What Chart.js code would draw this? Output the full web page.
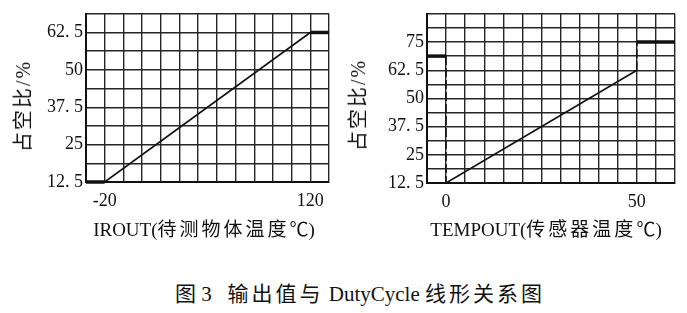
<!DOCTYPE html>
<html><head><meta charset="utf-8">
<script src="https://cdn.jsdelivr.net/npm/chart.js@4/dist/chart.umd.min.js"></script>
<style>
html,body{margin:0;padding:0;background:#fff;}
#wrap{position:relative;width:687px;height:313px;overflow:hidden;font-family:"Liberation Serif","Noto Sans CJK SC",serif;color:#111;}
.box{position:absolute;top:0;}
.t{position:absolute;white-space:nowrap;transform:translate(-50%,-50%);line-height:1;}
.yt{position:absolute;white-space:nowrap;transform:translate(-50%,-50%) rotate(-90deg);line-height:1;}
.cj{letter-spacing:3px;}
</style></head><body>
<div id="wrap">
  <div class="box" style="left:0;width:340px;height:250px"><canvas id="c1" width="340" height="250"></canvas></div>
  <div class="box" style="left:340px;width:347px;height:250px"><canvas id="c2" width="347" height="250"></canvas></div>
  <div class="yt" style="left:23px;top:106px;font-size:20px;letter-spacing:2px">占空比/%</div>
  <div class="yt" style="left:358px;top:105px;font-size:20px;letter-spacing:2px">占空比/%</div>
  <div class="t" style="left:204px;top:229px;font-size:19px">IROUT(<span class="cj">待测物体温度</span>℃)</div>
  <div class="t" style="left:546px;top:229px;font-size:19px">TEMPOUT(<span class="cj">传感器温度</span>℃)</div>
  <div class="t" style="left:360px;top:294px;font-size:21px">图 3&nbsp;&nbsp; <span class="cj">输出值与</span> DutyCycle <span class="cj">线形关系图</span></div>
</div>
<script>
// ---- data ----
const irTickLabels = [-20, 120];
const irX = [-20, 120];
const irY = [12.5, 62.5];
const irDutyTicks = [12.5, 25, 37.5, 50, 62.5];

const tempTickLabels = [0, 50];
const tempX = [0, 50];
const tempY = [12.5, 62.5];
const tempLowY = [68.75];
const tempHighY = [75];
const tempDutyTicks = [12.5, 25, 37.5, 50, 62.5, 75];

// ---- helpers ----
const FONT = {family: "'Liberation Serif', serif", size: 18};
function fmt(v){ return String(v).replace('.', '. '); }
function labeler(list){
  return function(value){
    const hit = list.find(v => Math.abs(v - value) < 1e-6);
    return hit === undefined ? '' : fmt(hit);
  };
}
function gridTicks(min, max, step){
  return function(scale){
    const t = [];
    const n = Math.round((max - min) / step);
    for (let k = 0; k <= n; k++) t.push({value: min + k * step});
    scale.ticks = t;
  };
}
function makeChart(id, cfg){
  const xStep = cfg.xStep, yStep = 6.25;
  return new Chart(document.getElementById(id), {
    type: 'line',
    data: {datasets: cfg.datasets},
    options: {
      responsive: false, animation: false,
      layout: {padding: {top: 13, right: cfg.padRight, left: 0, bottom: 0}},
      plugins: {legend: {display: false}, tooltip: {enabled: false}},
      elements: {point: {radius: 0}, line: {tension: 0}},
      scales: {
        x: {
          type: 'linear', min: cfg.xMin, max: cfg.xMax,
          afterBuildTicks: gridTicks(cfg.xMin, cfg.xMax, xStep),
          afterFit: s => { s.height = cfg.xHeight; },
          grid: {color: '#262626', lineWidth: 1.4, drawTicks: false},
          border: {color: '#111', width: 2},
          ticks: {autoSkip: false, maxRotation: 0, padding: 8, color: '#111', font: FONT, callback: labeler(cfg.xLabels)}
        },
        y: {
          type: 'linear', min: cfg.yMin, max: cfg.yMax,
          afterBuildTicks: gridTicks(cfg.yMin, cfg.yMax, yStep),
          afterFit: s => { s.width = cfg.yWidth; },
          grid: {color: '#262626', lineWidth: 1.4, drawTicks: false},
          border: {color: '#111', width: 2},
          ticks: {autoSkip: false, padding: 3, color: '#111', font: FONT, callback: labeler(cfg.yLabels)}
        }
      }
    }
  });
}

// ---- left chart: IROUT ----
const irStep = (irTickLabels[1] - irTickLabels[0]) / 11;
const irXMin = irTickLabels[0] - irStep, irXMax = irTickLabels[1] + irStep;
makeChart('c1', {
  xMin: irXMin, xMax: irXMax, xStep: irStep, yMin: 12.5, yMax: 68.75,
  padRight: 11, yWidth: 86, xHeight: 68,
  xLabels: irTickLabels, yLabels: irDutyTicks,
  datasets: [
    {data: [{x: irXMin, y: irY[0]}, {x: irX[0], y: irY[0]}], borderColor: '#111', borderWidth: 3.5, clip: false},
    {data: irX.map((x, i) => ({x, y: irY[i]})), borderColor: '#111', borderWidth: 1.6},
    {data: [{x: irX[1], y: irY[1]}, {x: irXMax, y: irY[1]}], borderColor: '#111', borderWidth: 3.5, clip: false}
  ]
});

// ---- right chart: TEMPOUT ----
const tXMin = -5, tXMax = 60;
makeChart('c2', {
  xMin: tXMin, xMax: tXMax, xStep: 5, yMin: 12.5, yMax: 87.5,
  padRight: 12, yWidth: 87, xHeight: 67,
  xLabels: tempTickLabels, yLabels: tempDutyTicks,
  datasets: [
    {data: [{x: tXMin, y: tempLowY[0]}, {x: tempX[0], y: tempLowY[0]}], borderColor: '#111', borderWidth: 3.5, clip: false},
    {data: [{x: tempX[0], y: tempLowY[0]}, {x: tempX[0], y: tempY[0]}], borderColor: '#111', borderWidth: 1.5, borderDash: [9, 3]},
    {data: tempX.map((x, i) => ({x, y: tempY[i]})), borderColor: '#111', borderWidth: 1.6},
    {data: [{x: tempX[1], y: tempY[1]}, {x: tempX[1], y: tempHighY[0]}], borderColor: '#111', borderWidth: 1.5, borderDash: [9, 3]},
    {data: [{x: tempX[1], y: tempHighY[0]}, {x: tXMax, y: tempHighY[0]}], borderColor: '#111', borderWidth: 3.5, clip: false}
  ]
});
</script>
</body></html>
